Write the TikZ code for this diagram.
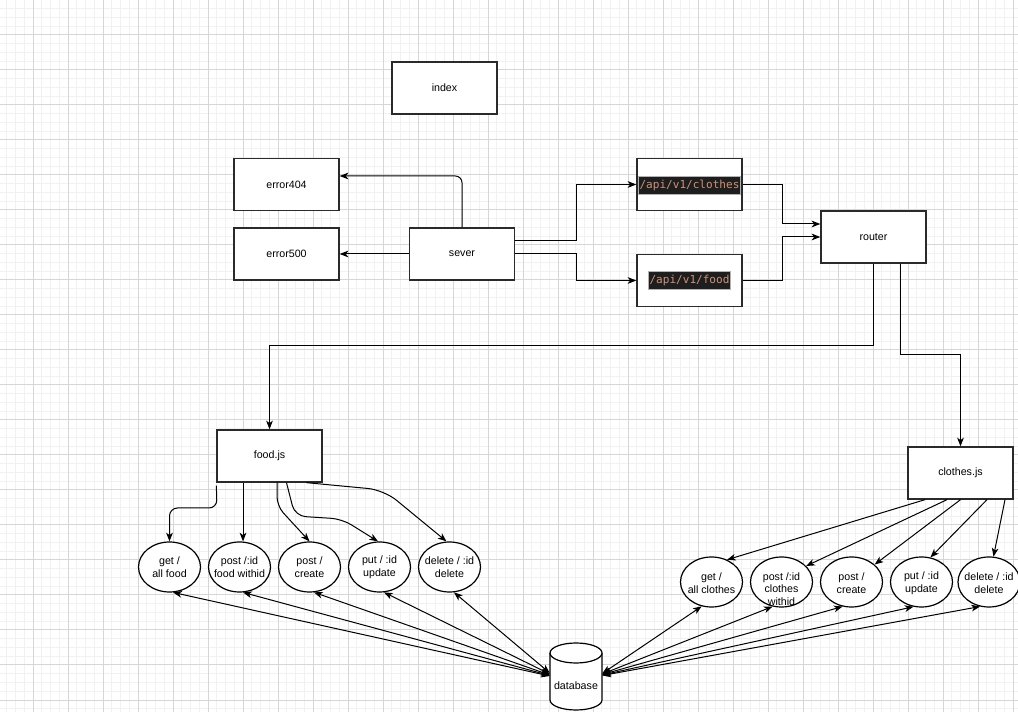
\documentclass[tikz,border=0pt]{standalone}
\usepackage{fontspec}
\setmainfont{Liberation Sans}
\newfontfamily\codefont{DejaVu Sans Mono}
\usetikzlibrary{arrows.meta,calc,shapes.geometric}
\definecolor{gridminor}{HTML}{F1F1F1}
\definecolor{gridmajor}{HTML}{D6D6D6}
\definecolor{codebg}{HTML}{1E1E1E}
\definecolor{codefg}{HTML}{CE9178}
\definecolor{boxline}{HTML}{2A2A2A}
\begin{document}
\begin{tikzpicture}[x=0.75pt,y=-0.75pt,
  lbl/.style={font=\fontsize{8}{9.5}\selectfont, align=center, inner sep=0pt},
  box/.style={draw=boxline, line width=1pt, fill=white, minimum width=78.75pt, minimum height=39pt, inner sep=0pt, lbl},
  ell/.style={draw=black, line width=0.9pt, fill=white, ellipse, minimum width=46.5pt, minimum height=37.5pt, inner sep=0pt},
  code/.style={fill=codebg, draw=gray!60, line width=0.4pt, text=codefg, font=\codefont\fontsize{8.3}{10}\selectfont, inner xsep=0.8pt, inner ysep=2.6pt},
  arr/.style={-{Stealth[length=6.5pt,width=5pt,inset=1.8pt]}, line width=0.75pt, draw=black},
  biarr/.style={{Stealth[length=6.5pt,width=5pt,inset=1.8pt]}-{Stealth[length=6.5pt,width=5pt,inset=1.8pt]}, line width=0.75pt, draw=black}
]
\useasboundingbox (0,0) rectangle (1018,712);
\fill[white] (0,0) rectangle (1018,712);
% grid
\foreach \i in {0,...,117} {\draw[gridminor, line width=0.75pt] ({-2+8.75*\i},0) -- ({-2+8.75*\i},712);}
\foreach \j in {0,...,82} {\draw[gridminor, line width=0.75pt] (0,{8.75*\j}) -- (1018,{8.75*\j});}
\foreach \i in {0,...,30} {\draw[gridmajor, line width=0.75pt] ({-2+35*\i},0) -- ({-2+35*\i},712);}
\foreach \j in {0,...,20} {\draw[gridmajor, line width=0.75pt] (0,{35*\j}) -- (1018,{35*\j});}

% boxes
\node[box] (index) at (444.5,88) {index};
\node[box] (e404) at (286.5,184.5) {error404};
\node[box] (e500) at (286.5,254) {error500};
\node[box] (sever) at (462,254) {sever};
\node[box] (capi) at (689.5,184.5) {};
\node[code] (capitext) at (689.5,185) {/api/v1/clothes};
\node[box] (fapi) at (689.5,280.5) {};
\node[code] (fapitext) at (689.5,280) {/api/v1/food};
\node[box] (router) at (873.5,237) {router};
\node[box] (foodjs) at (269.5,456) {food.js};
\node[box] (clothesjs) at (960.5,473) {clothes.js};

% food ellipses
\node[ell] (f1) at (169.5,567) {}; \node[lbl] (f1t) at (f1) {get /\\all food};
\node[ell] (f2) at (239.5,567) {}; \node[lbl] (f2t) at (f2) {post /:id\\food withid};
\node[ell] (f3) at (309.5,567) {}; \node[lbl] (f3t) at (f3) {post /\\create};
\node[ell] (f4) at (379.5,567) {}; \node[lbl] (f4t) at (f4) {put / :id\\update};
\node[ell] (f5) at (449.5,567) {}; \node[lbl] (f5t) at (f5) {delete / :id\\delete};

% clothes ellipses
\node[ell] (c1) at (711.5,582) {}; \node[lbl] (c1t) at (711.5,583) {get /\\all clothes};
\node[ell] (c2) at (781.5,582) {}; \node[lbl] (c2t) at (781.5,589) {post /:id\\clothes\\withid};
\node[ell] (c3) at (851.5,582) {}; \node[lbl] (c3t) at (851.5,583) {post /\\create};
\node[ell] (c4) at (921.5,582) {}; \node[lbl] (c4t) at (921.5,583) {put / :id\\update};
\node[ell] (c5) at (989,582) {}; \node[lbl] (c5t) at (989,583) {delete / :id\\delete};

% database cylinder
\node[minimum width=39pt, minimum height=50.25pt, inner sep=0pt] (db) at (576,676.5) {};
\fill[white] (550,653) -- (550,700) arc[start angle=180,end angle=360,x radius=19.5pt,y radius=7.5pt] -- (602,653) -- cycle;
\draw[line width=0.9pt] (550,653) -- (550,700) arc[start angle=180,end angle=360,x radius=19.5pt,y radius=7.5pt] -- (602,653);
\draw[line width=0.9pt, fill=white] (576,653) ellipse[x radius=19.5pt, y radius=7.5pt];
\node[lbl] (dbtext) at (576,686) {database};
\coordinate (dbL) at (db.west);
\coordinate (dbR) at (db.east);

% server connectors
\draw[arr, rounded corners=5pt] (sever.north) |- ($(e404.east)+(0,-8.5)$);
\draw[arr] (sever.west) -- (e500.east);
\draw[arr] ($(sever.east)+(0,-13)$) -- (576,241) |- (capi.west);
\draw[arr] (sever.east) -- (576,254) |- (fapi.west);
\draw[arr] (capi.east) -- (782,184.5) |- ($(router.west)+(0,-13)$);
\draw[arr] (fapi.east) -- (782,280.5) |- (router.west);
\draw[arr] (router.south) -- (873.5,346) -| (foodjs.north);
\draw[arr] ($(router.south)+(26.5,0)$) -- (900,355) -| (clothesjs.north);

% food.js to ellipses
\draw[arr, rounded corners=6pt] ($(foodjs.south west)+(0,3)$) -- (217,508) -| (f1.north);
\draw[arr] ($(foodjs.south)+(-26.5,0)$) -- ($(f2.north)+(3.5,0)$);
\draw[arr, rounded corners=7pt] ($(foodjs.south)+(7.5,0)$) -- (277,506) -- (f3.north);
\draw[arr, rounded corners=8pt] ($(foodjs.south)+(17,0)$) -- (295,516) -- (342,519) -- ($(f4.north)+(-1.5,0)$);
\draw[arr, rounded corners=12pt] ($(foodjs.south)+(37,0)$) -- (384,490) -- ($(f5.north)+(-3,0)$);

% clothes.js to ellipses
\draw[arr] ($(clothesjs.south)+(-35.5,0)$) -- (c1.55);
\draw[arr] ($(clothesjs.south)+(-13.5,0)$) -- (c2.33);
\draw[arr] ($(clothesjs.south)+(0,0)$) -- (c3.37);
\draw[arr] ($(clothesjs.south)+(26.5,0)$) -- (c4.70);
\draw[arr] ($(clothesjs.south)+(44.5,0)$) -- (c5.80);

% database links
\draw[biarr] ($(dbL)+(0,-0.5)$) -- (f1.-82);
\draw[biarr] ($(dbL)+(0,-1)$) -- (f2.-82);
\draw[biarr] ($(dbL)+(0,-1.5)$) -- (f3.-80);
\draw[biarr] ($(dbL)+(0,-2.5)$) -- (f4.-80);
\draw[biarr] ($(dbL)+(0,-3.5)$) -- (f5.-80);
\draw[biarr] ($(dbR)+(0,-3)$) -- (c1.-112);
\draw[biarr] ($(dbR)+(0,-2.5)$) -- (c2.-110);
\draw[biarr] ($(dbR)+(0,-2)$) -- (c3.-110);
\draw[biarr] ($(dbR)+(0,-1.5)$) -- (c4.-108);
\draw[biarr] ($(dbR)+(0,-1)$) -- (c5.-110);
\end{tikzpicture}
\end{document}
